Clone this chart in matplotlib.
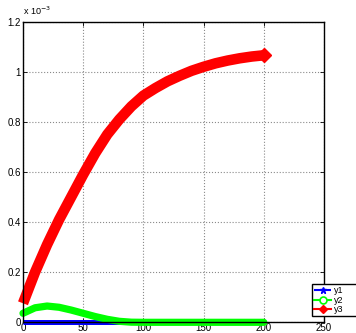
import numpy as np
import matplotlib
matplotlib.use('Agg')
import matplotlib.pyplot as plt
from matplotlib.lines import Line2D
from matplotlib.patches import Rectangle

plt.rcParams['font.family'] = ['Liberation Sans', 'DejaVu Sans']

# sample points and the three responses (in units of 1e-3)
t = [0, 10, 20, 30, 40, 50, 60, 70, 80, 90, 100,
     110, 120, 130, 140, 150, 160, 170, 180, 190, 200]
y1 = [0.0] * 21
y2 = [0.036, 0.058, 0.065, 0.060, 0.049, 0.036, 0.023, 0.012, 0.004, 0.0005, 0.0,
      0.0, 0.0, 0.0, 0.0, 0.0, 0.0, 0.0, 0.0, 0.0, 0.0]
y3 = [0.076, 0.200, 0.310, 0.410, 0.500, 0.590, 0.675, 0.750, 0.810, 0.862, 0.905,
      0.935, 0.962, 0.984, 1.004, 1.020, 1.034, 1.045, 1.054, 1.061, 1.066]

xticks = [0, 50, 100, 150, 200, 250]
yticks = [0, 0.2, 0.4, 0.6, 0.8, 1, 1.2]
labels = ['y1', 'y2', 'y3']

fig = plt.figure(figsize=(3.56, 3.33), dpi=100)
ax = fig.add_axes([0.0646, 0.0321, 0.8455, 0.9027])

# lines are not clipped at the axes box, like the original plot
ax.plot(t, y1, color='#0000ff', lw=3.6, solid_capstyle='butt', clip_on=False)
ax.plot(t, y2, color='#00ff00', lw=5.2, solid_capstyle='round', solid_joinstyle='round',
        clip_on=False)
ax.plot(t, y3, color='#ff0000', lw=7.6, solid_capstyle='butt', solid_joinstyle='round',
        marker='D', ms=7.5, markevery=[-1], mec='#ff0000', clip_on=False)

ax.set_xlim(0, 250)
ax.set_ylim(0, 1.2)
ax.set_xticks(xticks)
ax.set_yticks(yticks)
ax.set_xticklabels([f'{v:g}' for v in xticks])
ax.set_yticklabels([f'{v:g}' for v in yticks])
ax.tick_params(direction='in', length=3, width=0.6, top=True, right=True,
               labelsize=7, pad=1.5)
ax.tick_params(axis='x', pad=0.5)
ax.grid(True, linestyle=':', color='#8a8a8a', linewidth=0.8)
for s in ax.spines.values():
    s.set_linewidth(1.0)
    s.set_zorder(3)

fig.text(0.064, 0.948, r'x 10$^{-3}$', fontsize=6.5, ha='left', va='bottom')

handles = [
    Line2D([], [], color='#0000ff', ls='--', lw=1.5, marker='*', ms=5),
    Line2D([], [], color='#00ff00', ls='-', lw=1.5, marker='o', ms=5, mfc='white', mew=1.2),
    Line2D([], [], color='#ff0000', ls='-', lw=1.5, marker='D', ms=4),
]

# legend frame runs past the right edge of the figure
box = Rectangle((312 / 356, 1 - 316 / 333), 0.2, 32 / 333, transform=fig.transFigure,
                facecolor='white', edgecolor='black', lw=1.0, zorder=4)
fig.patches.append(box)
leg = fig.legend(handles, labels, loc='upper left', bbox_to_anchor=(0.876, 0.148),
                 fontsize=6.5, handlelength=1.9, handletextpad=0.25, labelspacing=0.08,
                 borderpad=0.25, borderaxespad=0, frameon=False)
leg.set_zorder(5)

fig.savefig('out.png', dpi=100)
